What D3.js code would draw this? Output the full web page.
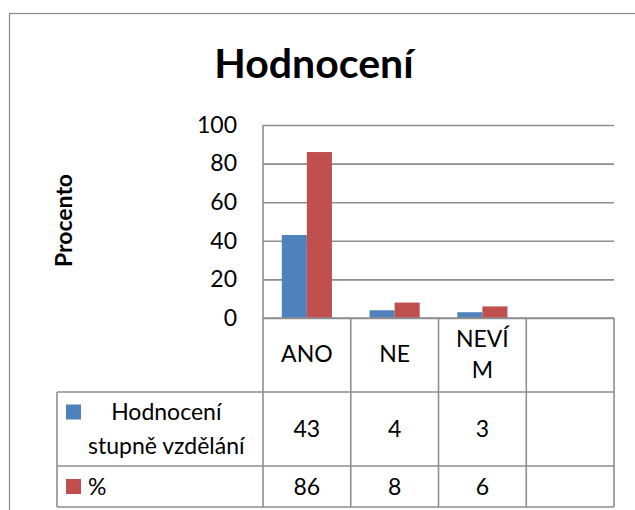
<!DOCTYPE html>
<html>
<head>
<meta charset="utf-8">
<script src="https://cdn.jsdelivr.net/npm/d3@7"></script>
<style>
  body { margin: 0; background: #fff; }
  text { font-family: Lato, "Open Sans", sans-serif; fill: #000; }
</style>
</head>
<body>
<div class="chart"></div>
<script>
var categories = ["ANO", "NE", "NEVÍM", ""];
var categoryLabels = [["ANO"], ["NE"], ["NEVÍ", "M"], [""]];
var seriesNames = [["Hodnocení", "stupně vzdělání"], ["%"]];
var seriesColors = ["#4f81bd", "#c0504d"];
var hodnoceni = [43, 4, 3, null];
var procenta = [86, 8, 6, null];
var yTicks = [0, 20, 40, 60, 80, 100];

var series = [hodnoceni, procenta];

var width = 635,
    height = 510,
    plot = {left: 263, right: 614, top: 125, bottom: 318},
    tableLeft = 57,
    rowLines = [318, 392, 466, 507],
    gridColor = "#8e8e8e",
    fontSize = 23;

var svg = d3.select(".chart").append("svg")
  .attr("width", width)
  .attr("height", height);

// outer chart border (runs off the right and bottom)
svg.append("rect")
  .attr("x", 9.5).attr("y", 13.5)
  .attr("width", 700).attr("height", 600)
  .attr("fill", "none")
  .attr("stroke", "#8a8a8a")
  .attr("stroke-width", 1.2);

svg.append("text")
  .attr("x", 314).attr("y", 78)
  .attr("text-anchor", "middle")
  .attr("font-size", 41)
  .attr("font-weight", "bold")
  .text("Hodnocení");

const x = d3.scaleBand()
  .domain(categories)
  .range([plot.left, plot.right])
  .padding(0);

const xs = d3.scaleBand()
  .domain(d3.range(series.length))
  .range([0, x.bandwidth()])
  .paddingInner(0)
  .paddingOuter(0.75);

const y = d3.scaleLinear()
  .domain([0, 100])
  .range([plot.bottom, plot.top]);

// gridlines
svg.append("g")
  .attr("transform", `translate(${plot.left},0)`)
  .call(d3.axisLeft(y).tickValues(yTicks).tickSize(-(plot.right - plot.left)).tickFormat(""))
  .call(g => g.select(".domain").remove())
  .call(g => g.selectAll("line").attr("stroke", gridColor).attr("stroke-width", 1.6));

// tick labels
svg.append("g")
  .attr("transform", `translate(${plot.left - 26},0)`)
  .call(d3.axisLeft(y).tickValues(yTicks).tickSize(0).tickPadding(0))
  .call(g => g.select(".domain").remove())
  .call(g => g.selectAll("text")
    .attr("font-size", fontSize)
    .attr("font-family", "Lato, sans-serif")
    .attr("fill", "#000"));

svg.append("text")
  .attr("transform", `translate(72,${(plot.top + plot.bottom) / 2 - 1}) rotate(-90)`)
  .attr("text-anchor", "middle")
  .attr("font-size", 23)
  .attr("font-weight", "bold")
  .text("Procento");

// bars
series.forEach((vals, si) => {
  svg.append("g")
    .selectAll("rect")
    .data(vals.map((v, i) => ({v: v, c: categories[i]})).filter(d => d.v != null))
    .enter().append("rect")
    .attr("x", d => x(d.c) + xs(si))
    .attr("width", xs.bandwidth())
    .attr("y", d => y(d.v))
    .attr("height", d => y(0) - y(d.v))
    .attr("fill", seriesColors[si]);
});

// plot left edge
svg.append("line")
  .attr("x1", plot.left).attr("x2", plot.left)
  .attr("y1", plot.top).attr("y2", plot.bottom)
  .attr("stroke", gridColor).attr("stroke-width", 1.6);

// data table
var tbl = svg.append("g").attr("stroke", gridColor).attr("stroke-width", 1.6);
tbl.append("line").attr("x1", plot.left).attr("x2", plot.right)
  .attr("y1", rowLines[0]).attr("y2", rowLines[0]);
rowLines.slice(1).forEach(ry => {
  tbl.append("line").attr("x1", tableLeft).attr("x2", plot.right)
    .attr("y1", ry).attr("y2", ry);
});
tbl.append("line").attr("x1", tableLeft).attr("x2", tableLeft)
  .attr("y1", rowLines[1]).attr("y2", rowLines[3]);
categories.map(c => x(c)).concat([plot.right]).forEach(cx => {
  tbl.append("line").attr("x1", cx).attr("x2", cx)
    .attr("y1", rowLines[0]).attr("y2", rowLines[3]);
});

function cellText(g, cx, cy, lines, lineH, anchor) {
  var t = g.append("text")
    .attr("text-anchor", anchor || "middle")
    .attr("font-size", fontSize);
  lines.forEach((ln, i) => {
    t.append("tspan")
      .attr("x", cx)
      .attr("y", cy + (i - (lines.length - 1) / 2) * lineH)
      .attr("dy", "0.35em")
      .text(ln);
  });
  return t;
}

var cells = svg.append("g");
categoryLabels.forEach((lines, i) => {
  cellText(cells, x(categories[i]) + x.bandwidth() / 2, (rowLines[0] + rowLines[1]) / 2 - 1, lines, 31);
});

series.forEach((vals, si) => {
  var cy = (rowLines[si + 1] + rowLines[si + 2]) / 2;
  vals.forEach((v, i) => {
    if (v != null) cellText(cells, x(categories[i]) + x.bandwidth() / 2, cy, [String(v)], 0);
  });
  var names = seriesNames[si];
  var keyY = cy - (names.length - 1) / 2 * 34;
  cells.append("rect")
    .attr("x", 66).attr("y", keyY - 7.5)
    .attr("width", 15).attr("height", 15)
    .attr("fill", seriesColors[si]);
  // text block starts after the key, lines centred inside the block
  var probe = cellText(cells, 88, cy, names, 34, "start");
  var maxW = 0;
  probe.selectAll("tspan").each(function() { maxW = Math.max(maxW, this.getComputedTextLength()); });
  probe.attr("text-anchor", "middle").selectAll("tspan").attr("x", 88 + maxW / 2);
});
</script>
</body>
</html>
